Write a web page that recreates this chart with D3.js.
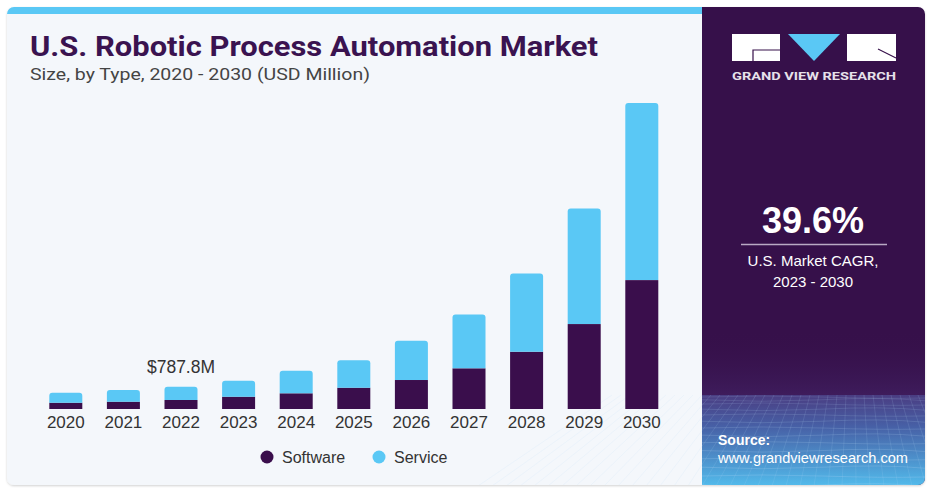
<!DOCTYPE html>
<html><head><meta charset="utf-8">
<script src="https://cdn.jsdelivr.net/npm/d3@7"></script>
<style>
html,body{margin:0;padding:0;background:#fff;}
svg{display:block;}
</style></head>
<body>
<svg id="chart" width="937" height="492"></svg>
<script>
const years = ["2020","2021","2022","2023","2024","2025","2026","2027","2028","2029","2030"];
const software = [222, 258, 318, 434, 554, 752, 1024, 1437, 2023, 3001, 4554];
const service  = [353, 413, 470, 565, 798, 967, 1387, 1906, 2767, 4084, 6259];
const seriesNames = ["Software", "Service"];
const annotationYear = "2022";
const annotationText = "$787.8M";
const cagrValue = "39.6%";
const cagrLabel = ["U.S. Market CAGR,", "2023 - 2030"];

const C_SOFT = "#3a0e4c", C_SERV = "#5ac8f5", C_PANEL = "#36104a";
const svg = d3.select("#chart");
const defs = svg.append("defs");

// card
const cardX = 7, cardY = 7, cardW = 918, cardH = 478, panelX = 702;
const clip = defs.append("clipPath").attr("id","card");
clip.append("rect").attr("x",cardX).attr("y",cardY).attr("width",cardW).attr("height",cardH).attr("rx",7);
const sh = defs.append("filter").attr("id","sh").attr("x","-5%").attr("y","-5%").attr("width","110%").attr("height","110%");
sh.append("feDropShadow").attr("dx",0).attr("dy",1).attr("stdDeviation",1.2).attr("flood-color","#000").attr("flood-opacity",0.18);
svg.append("rect").attr("x",cardX).attr("y",cardY).attr("width",cardW).attr("height",cardH).attr("rx",7)
  .attr("fill","#f4f7fb").attr("filter","url(#sh)");
const cg = svg.append("g").attr("clip-path","url(#card)");
cg.append("rect").attr("x",cardX).attr("y",cardY).attr("width",panelX-cardX).attr("height",7).attr("fill",C_SERV);

// right panel
const pTop = 395;
const grad = defs.append("linearGradient").attr("id","pg").attr("x1",0).attr("y1",0).attr("x2",0).attr("y2",1);
grad.append("stop").attr("offset","0").attr("stop-color","#4a3d82");
grad.append("stop").attr("offset","0.35").attr("stop-color","#4760a6");
grad.append("stop").attr("offset","1").attr("stop-color","#52b9ea");
cg.append("rect").attr("x",panelX).attr("y",cardY).attr("width",cardX+cardW-panelX).attr("height",cardH).attr("fill",C_PANEL);
const tg = defs.append("linearGradient").attr("id","tg").attr("x1",0).attr("y1",0).attr("x2",0).attr("y2",1);
tg.append("stop").attr("offset","0").attr("stop-color",C_PANEL).attr("stop-opacity",0);
tg.append("stop").attr("offset","1").attr("stop-color","#3e1c5c").attr("stop-opacity",1);
cg.append("rect").attr("x",panelX).attr("y",330).attr("width",cardX+cardW-panelX).attr("height",pTop-330).attr("fill","url(#tg)");
cg.append("rect").attr("x",panelX).attr("y",pTop).attr("width",cardX+cardW-panelX).attr("height",cardY+cardH-pTop).attr("fill","url(#pg)");
// grid texture
const gridG = cg.append("g").attr("stroke","#b8d8f5").attr("stroke-width",0.7).attr("fill","none");
for (let i=0;i<14;i++){
  const yy = pTop + 2 + Math.pow(i/13,1.35)*88;
  gridG.append("path").attr("d",`M${panelX},${yy} Q${panelX+60},${yy+(i%2?3:-2)} ${panelX+120},${yy} T${cardX+cardW},${yy+1}`)
    .attr("opacity",0.18+0.012*i);
}
for (let i=-10;i<=26;i++){
  const xt = panelX + i*9, xb = panelX + (i-6)*14;
  gridG.append("line").attr("x1",xt).attr("y1",pTop).attr("x2",xb).attr("y2",486).attr("opacity",0.2);
}

// logo
const lg = svg.append("g");
lg.append("rect").attr("x",732).attr("y",34).attr("width",48).attr("height",27).attr("fill","#fff");
lg.append("path").attr("d","M788,34 L840,34 L814,61 Z").attr("fill",C_SERV);
lg.append("rect").attr("x",847).attr("y",34).attr("width",49).attr("height",27).attr("fill","#fff");
lg.append("path").attr("d","M753,61 L753,50 L780,50").attr("stroke",C_PANEL).attr("stroke-width",1.2).attr("fill","none");
lg.append("path").attr("d","M878,49 L896,58").attr("stroke",C_PANEL).attr("stroke-width",1.2).attr("fill","none");
lg.append("text").attr("x",814).attr("y",80).attr("text-anchor","middle").attr("fill","#e6e1ea")
  .attr("font-family","Roboto, 'DejaVu Sans', sans-serif").attr("font-weight",700).attr("font-size",11.5)
  .attr("textLength",164).attr("lengthAdjust","spacingAndGlyphs").text("GRAND VIEW RESEARCH");

// title
svg.append("text").attr("x",30).attr("y",56).attr("fill","#3a1350")
  .attr("font-family","Roboto, 'Liberation Sans', sans-serif").attr("font-weight",700).attr("font-size",28)
  .attr("textLength",568).attr("lengthAdjust","spacingAndGlyphs").text("U.S. Robotic Process Automation Market");
svg.append("text").attr("x",30).attr("y",80).attr("fill","#444")
  .attr("font-family","Roboto, 'Liberation Sans', sans-serif").attr("font-size",17)
  .attr("textLength",340).attr("lengthAdjust","spacingAndGlyphs").text("Size, by Type, 2020 - 2030 (USD Million)");

// scales
const x = d3.scaleBand().domain(years).range([37, 670.6]).paddingInner(0.427).paddingOuter(0.2135);
const y = d3.scaleLinear().domain([0, 12000]).range([409, 69.4]);
const data = years.map((yr,i)=>({year:yr, software:software[i], service:service[i]}));
const stack = d3.stack().keys(["software","service"])(data);

function topRounded(x0, y0, w, h, r){
  r = Math.min(r, h, w/2);
  return `M${x0},${y0+h} L${x0},${y0+r} Q${x0},${y0} ${x0+r},${y0} L${x0+w-r},${y0} Q${x0+w},${y0} ${x0+w},${y0+r} L${x0+w},${y0+h} Z`;
}
const bars = svg.append("g");
bars.selectAll("rect.sw").data(stack[0]).join("rect").attr("class","sw")
  .attr("x",d=>x(d.data.year)).attr("width",x.bandwidth())
  .attr("y",d=>y(d[1])).attr("height",d=>y(d[0])-y(d[1])).attr("fill",C_SOFT);
bars.selectAll("path.sv").data(stack[1]).join("path").attr("class","sv")
  .attr("d",d=>topRounded(x(d.data.year), y(d[1]), x.bandwidth(), y(d[0])-y(d[1]), 3))
  .attr("fill",C_SERV);

// x axis
const xAxis = d3.axisBottom(x).tickSize(0).tickPadding(0);
const ax = svg.append("g").attr("transform","translate(0,409)").call(xAxis);
ax.select(".domain").remove();
ax.selectAll("text").attr("dy",null).attr("y",19).attr("fill","#333")
  .attr("font-family","'Liberation Sans', Arial, sans-serif").attr("font-size",17);

// annotation
const ai = years.indexOf(annotationYear);
svg.append("text").attr("x",x(annotationYear)+x.bandwidth()/2).attr("y",y(software[ai]+service[ai])-13.5)
  .attr("text-anchor","middle").attr("fill","#333")
  .attr("font-family","'Liberation Sans', Arial, sans-serif").attr("font-size",17.5).text(annotationText);

// legend
const leg = svg.append("g").attr("font-family","'Liberation Sans', Arial, sans-serif").attr("font-size",16).attr("fill","#333");
const legX = [267, 379];
seriesNames.forEach((n,i)=>{
  leg.append("circle").attr("cx",legX[i]).attr("cy",457).attr("r",6.5).attr("fill",i===0?C_SOFT:C_SERV);
  leg.append("text").attr("x",legX[i]+15).attr("y",463).text(n);
});

// CAGR panel
const pf = "'Liberation Sans', Arial, sans-serif";
svg.append("text").attr("x",813).attr("y",233).attr("text-anchor","middle").attr("fill","#fff")
  .attr("font-family",pf).attr("font-weight",700).attr("font-size",36).text(cagrValue);
svg.append("line").attr("x1",741).attr("x2",887).attr("y1",244.5).attr("y2",244.5).attr("stroke","#b9a9c4").attr("stroke-width",1.5);
cagrLabel.forEach((t,i)=>{
  svg.append("text").attr("x",813).attr("y",266+i*20.5).attr("text-anchor","middle").attr("fill","#fff")
    .attr("font-family",pf).attr("font-size",15).text(t);
});
svg.append("text").attr("x",718).attr("y",445).attr("fill","#fff").attr("font-family",pf).attr("font-weight",700).attr("font-size",14).text("Source:");
svg.append("text").attr("x",718).attr("y",463).attr("fill","#fff").attr("font-family",pf).attr("font-size",14)
  .attr("textLength",190).attr("lengthAdjust","spacingAndGlyphs").text("www.grandviewresearch.com");
</script>
</body></html>
